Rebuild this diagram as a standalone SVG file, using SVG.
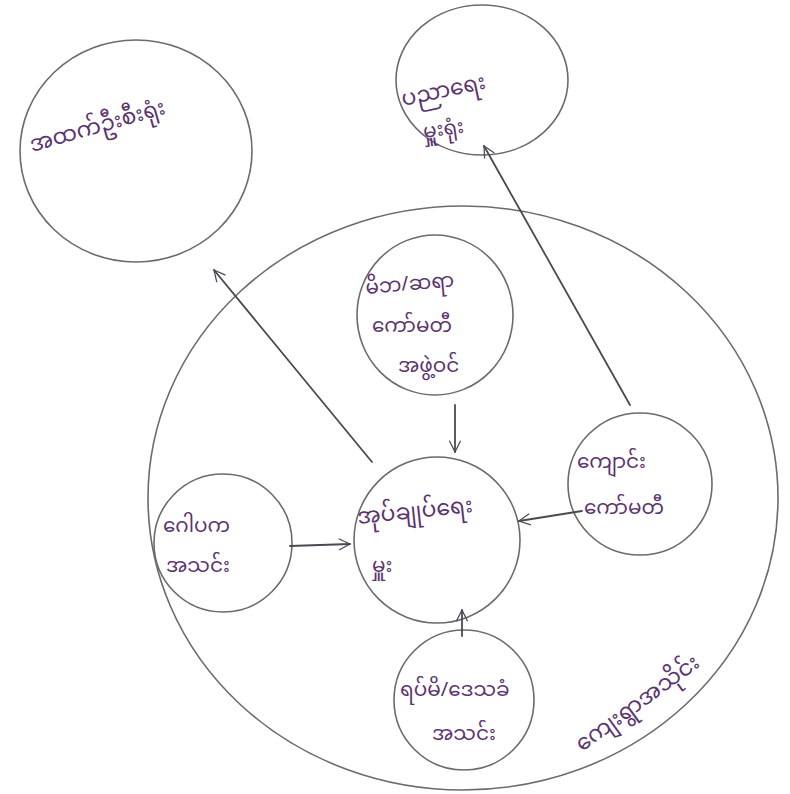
<svg xmlns="http://www.w3.org/2000/svg" width="790" height="794" viewBox="0 0 790 794">
<defs>
<style>
.c{fill:none;stroke:#6b6b6b;stroke-width:1.6}
.l{fill:none;stroke:#4a4a55;stroke-width:1.8;stroke-linecap:round}
.t{font-family:"Noto Sans Myanmar","Padauk","Myanmar Text","Noto Sans",sans-serif;font-size:20px;fill:#5b3470}
.b{font-size:22px}
</style>
<marker id="a" viewBox="0 0 20 20" refX="18" refY="10" markerWidth="14" markerHeight="14" orient="auto" markerUnits="userSpaceOnUse">
<path d="M2,2 L18,10 L2,18" fill="none" stroke="#4a4a55" stroke-width="1.8"/>
</marker>
</defs>
<rect width="790" height="794" fill="#fff"/>
<g id="outer">
<ellipse class="c" cx="463" cy="498" rx="315" ry="292"/>
<text class="t b" transform="translate(582,752) rotate(-36)">ကျေးရွာအသိုင်း</text>
</g>
<g id="node-topleft">
<ellipse class="c" cx="136" cy="151" rx="116" ry="111"/>
<text class="t b" transform="translate(32,152) rotate(-16)">အထက်ဦးစီးရုံး</text>
</g>
<g id="node-topright">
<ellipse class="c" cx="482" cy="80" rx="86" ry="75"/>
<text class="t b" transform="translate(403,106) rotate(-12)">ပညာရေး</text>
<text class="t" transform="translate(424,138) rotate(-8)">မှူးရုံး</text>
</g>
<g id="node-top">
<ellipse class="c" cx="435" cy="315" rx="78" ry="80"/>
<text class="t" transform="translate(366,294) rotate(-5)">မိဘ/ဆရာ</text>
<text class="t" x="372" y="332">ကော်မတီ</text>
<text class="t" x="398" y="372">အဖွဲ့ဝင်</text>
</g>
<g id="node-center">
<ellipse class="c" cx="437" cy="540" rx="83" ry="83"/>
<text class="t b" transform="translate(358,524) rotate(-6)">အုပ်ချုပ်ရေး</text>
<text class="t" x="372" y="572">မှူး</text>
</g>
<g id="node-left">
<ellipse class="c" cx="223" cy="543" rx="69" ry="69"/>
<text class="t" x="163" y="532">ဂေါပက</text>
<text class="t" x="166" y="572">အသင်း</text>
</g>
<g id="node-right">
<ellipse class="c" cx="640" cy="484" rx="72" ry="71"/>
<text class="t" x="577" y="468">ကျောင်း</text>
<text class="t" x="584" y="514">ကော်မတီ</text>
</g>
<g id="node-bottom">
<ellipse class="c" cx="464" cy="700" rx="70" ry="70"/>
<text class="t" x="400" y="696">ရပ်မိ/ဒေသခံ</text>
<text class="t" x="432" y="740">အသင်း</text>
</g>
<g id="connectors">
<line class="l" x1="455" y1="405" x2="455" y2="452" marker-end="url(#a)"/>
<line class="l" x1="290" y1="546" x2="350" y2="544" marker-end="url(#a)"/>
<line class="l" x1="582" y1="511" x2="519" y2="521" marker-end="url(#a)"/>
<line class="l" x1="462" y1="636" x2="462" y2="610" marker-end="url(#a)"/>
<line class="l" x1="372" y1="462" x2="214" y2="270" marker-end="url(#a)"/>
<line class="l" x1="630" y1="405" x2="484" y2="146" marker-end="url(#a)"/>
</g>
</svg>
